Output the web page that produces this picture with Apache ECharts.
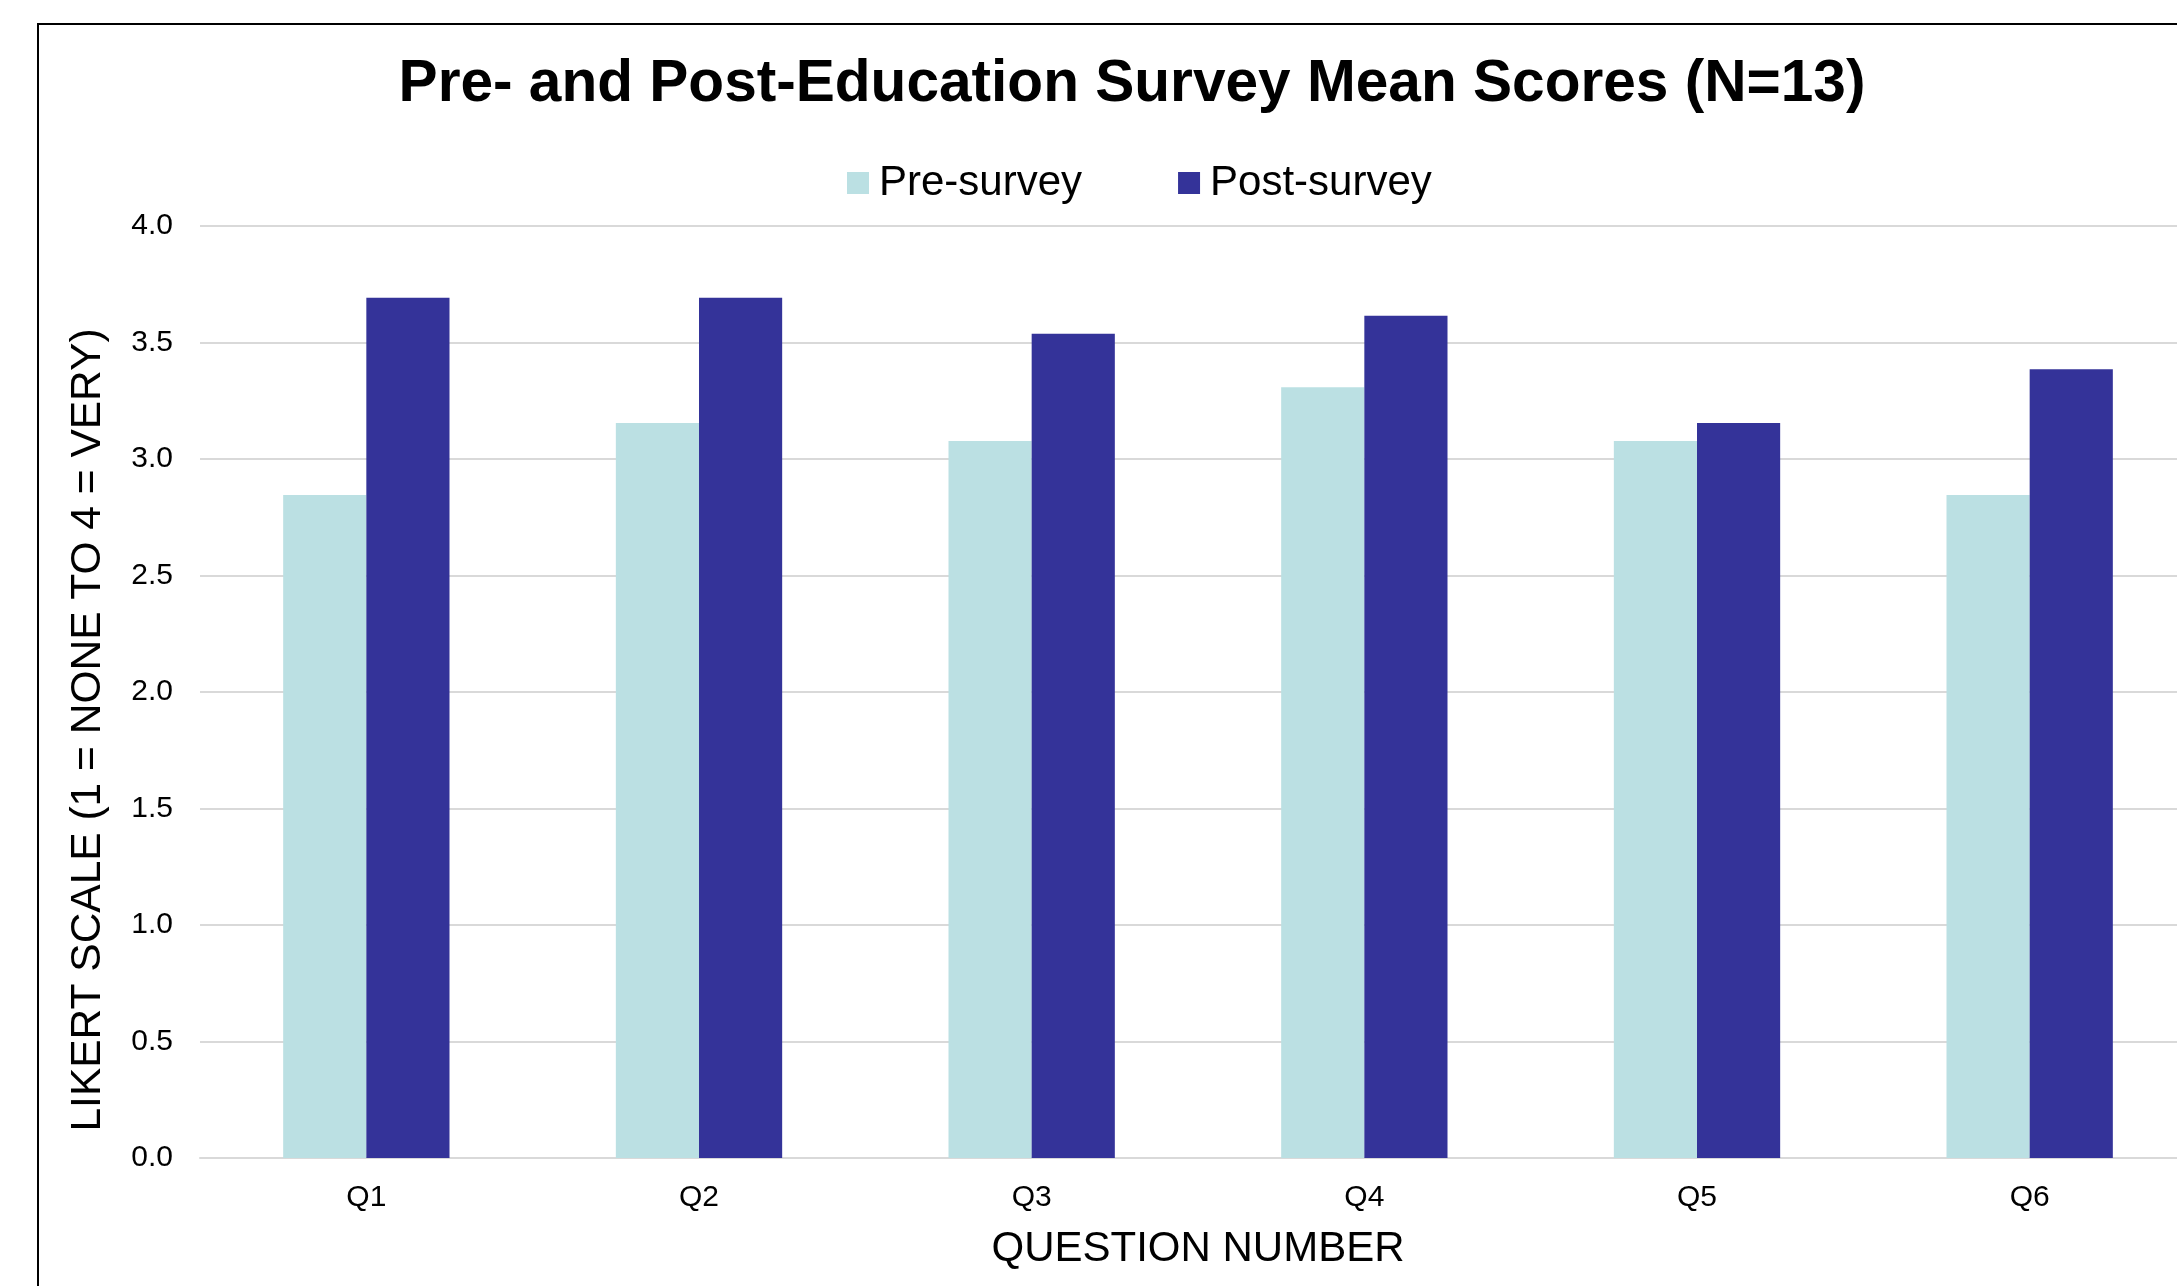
<!DOCTYPE html>
<html>
<head>
<meta charset="utf-8">
<title>Pre- and Post-Education Survey Mean Scores</title>
<script src="https://cdn.jsdelivr.net/npm/echarts@6/dist/echarts.min.js"></script>
<style>
html, body { margin: 0; padding: 0; background: #fff; overflow: hidden; }
#chart { width: 2177px; height: 1286px; }
</style>
</head>
<body>
<div id="chart"></div>
<script>
// data (means of N=13 answers)
var questions = ['Q1', 'Q2', 'Q3', 'Q4', 'Q5', 'Q6'];
var preSurvey = [2.846, 3.154, 3.077, 3.308, 3.077, 2.846];
var postSurvey = [3.692, 3.692, 3.538, 3.615, 3.154, 3.385];
var seriesNames = ['Pre-survey', 'Post-survey'];
var yMin = 0, yMax = 4, yStep = 0.5;

var font = 'Liberation Sans, Arial, sans-serif';
var chart = echarts.init(document.getElementById('chart'));

var option = {
  backgroundColor: '#ffffff',
  animation: false,
  title: {
    text: 'Pre- and Post-Education Survey Mean Scores (N=13)',
    left: 1127,
    top: 50,
    textAlign: 'center',
    textStyle: { fontFamily: font, fontSize: 58.6, fontWeight: 'bold', color: '#000' }
  },
  legend: {
    data: seriesNames,
    left: 842,
    top: 157,
    itemWidth: 22,
    itemHeight: 22,
    itemGap: 96,
    icon: 'rect',
    textStyle: { fontFamily: font, fontSize: 42, color: '#000', padding: [0, 0, 0, 5] }
  },
  grid: {
    left: 200,
    right: -19,
    top: 226,
    bottom: 128,
    containLabel: false,
    outerBoundsMode: 'none'
  },
  xAxis: {
    type: 'category',
    data: questions,
    name: 'QUESTION NUMBER',
    nameLocation: 'middle',
    nameGap: 70,
    nameTextStyle: { fontFamily: font, fontSize: 42, color: '#000' },
    axisLine: { lineStyle: { color: '#D9D9D9', width: 2 } },
    axisTick: { show: false },
    axisLabel: { fontFamily: font, fontSize: 30, color: '#000', margin: 25 }
  },
  yAxis: {
    type: 'value',
    min: yMin,
    max: yMax,
    interval: yStep,
    axisLine: { show: false },
    axisTick: { show: false },
    axisLabel: {
      fontFamily: font, fontSize: 30, color: '#000', margin: 27,
      formatter: function (v) { return v.toFixed(1); }
    },
    splitLine: { lineStyle: { color: '#D9D9D9', width: 2 } }
  },
  graphic: [
    { // outer chart frame, cut off on the right and bottom like the source
      type: 'rect',
      silent: true,
      shape: { x: 38, y: 24, width: 2400, height: 2000 },
      style: { fill: 'none', stroke: '#000', lineWidth: 2 }
    },
    {
      type: 'text',
      x: 88,
      y: 730,
      rotation: Math.PI / 2,
      style: {
        text: 'LIKERT SCALE (1 = NONE TO 4 = VERY)',
        fontFamily: font, fontSize: 42.5, fill: '#000',
        align: 'center', verticalAlign: 'middle'
      }
    }
  ],
  series: [
    {
      name: seriesNames[0],
      type: 'bar',
      data: preSurvey,
      itemStyle: { color: '#BBE0E3' },
      barGap: '0%',
      barCategoryGap: '50%'
    },
    {
      name: seriesNames[1],
      type: 'bar',
      data: postSurvey,
      itemStyle: { color: '#343399' },
      barGap: '0%',
      barCategoryGap: '50%'
    }
  ]
};

chart.setOption(option);
</script>
</body>
</html>
